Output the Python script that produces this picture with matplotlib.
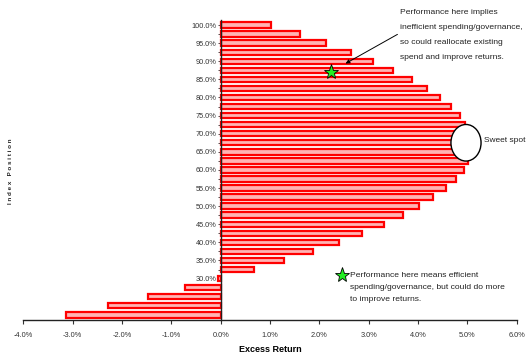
import matplotlib
matplotlib.use('Agg')
import matplotlib.pyplot as plt
from matplotlib.patches import Ellipse
import numpy as np

plt.rcParams['font.family'] = ['Liberation Sans', 'DejaVu Sans']

# index position (%) and excess return (%)
positions = [20.0, 22.5, 25.0, 27.5, 30.0, 32.5, 35.0, 37.5, 40.0, 42.5, 45.0,
             47.5, 50.0, 52.5, 55.0, 57.5, 60.0, 62.5, 65.0, 67.5, 70.0, 72.5,
             75.0, 77.5, 80.0, 82.5, 85.0, 87.5, 90.0, 92.5, 95.0, 97.5, 100.0]
excess = [-3.14, -2.29, -1.48, -0.73, -0.05, 0.67, 1.28, 1.86, 2.40, 2.87, 3.30,
          3.69, 4.02, 4.31, 4.57, 4.76, 4.92, 5.02, 5.07, 5.07, 5.02, 4.95,
          4.85, 4.67, 4.45, 4.18, 3.87, 3.50, 3.09, 2.65, 2.13, 1.61, 1.01]

xticks = [-4, -3, -2, -1, 0, 1, 2, 3, 4, 5, 6]
yticks = [20, 25, 30, 35, 40, 45, 50, 55, 60, 65, 70, 75, 80, 85, 90, 95, 100]

star_hi = (2.24, 87.0)
star_lo = (2.45, 31.0)

text_hi = "Performance here implies\ninefficient spending/governance,\nso could reallocate existing\nspend and improve returns."
text_lo = "Performance here means efficient\nspending/governance, but could do more\nto improve returns."

fig = plt.figure(figsize=(5.29, 3.57), dpi=100)
ax = fig.add_axes([0.044, 0.104, 0.933, 0.84])

ax.barh(positions, excess, height=1.5, color='#ffb4b4', edgecolor='#ff0000',
        linewidth=1.6, zorder=2)

ax.set_xlim(-4, 6)
ax.set_ylim(18.6, 101.4)

# y axis sits at zero excess return
ax.spines['left'].set_position(('data', 0))
ax.spines['right'].set_visible(False)
ax.spines['top'].set_visible(False)
ax.spines['left'].set_zorder(3)
for s in ['left', 'bottom']:
    ax.spines[s].set_color('#222222')
    ax.spines[s].set_linewidth(1.0)

ax.set_xticks(xticks)
ax.set_xticklabels([f'{v:.1f}%' for v in xticks], fontsize=5.3, color='#333333')
ax.set_yticks(yticks)
ax.set_yticklabels([f'{v:.1f}%' for v in yticks], fontsize=5.3, color='#333333')
ax.set_yticks(positions, minor=True)
ax.tick_params(axis='x', direction='out', length=3, width=0.8, colors='#333333', pad=6)
ax.tick_params(axis='y', which='both', direction='out', length=2, width=0.6, colors='#333333', pad=1)

ax.set_xlabel('Excess Return', fontsize=6.5, fontweight='bold', labelpad=4)
fig.text(0.02, 0.521, 'I n d e x   P o s i t i o n', rotation=90, fontsize=4.5,
         fontweight='bold', ha='center', va='center', color='#222222')

# sweet spot circle
ell = Ellipse((4.97, 67.5), 0.61, 10.1, facecolor='white', edgecolor='black',
              linewidth=1.0, zorder=4)
ax.add_patch(ell)
ax.text(5.34, 68.1, 'Sweet spot', fontsize=6, va='center', ha='left', color='#222222')

# stars
ax.plot(*star_hi, marker='*', markersize=11, color='#22ee22', markeredgecolor='black',
        markeredgewidth=0.6, zorder=5)
ax.plot(*star_lo, marker='*', markersize=11, color='#22ee22', markeredgecolor='black',
        markeredgewidth=0.6, zorder=5, clip_on=False)

ax.text(3.63, 104.3, text_hi, fontsize=6.1, va='top', ha='left', linespacing=2.55,
        color='#222222')
ax.annotate('', xy=(2.48, 89.0), xytext=(3.63, 97.8),
            arrowprops=dict(arrowstyle='-|>', color='black', lw=0.7, mutation_scale=6))

ax.text(2.62, 31.85, text_lo, fontsize=6.1, va='top', ha='left', linespacing=1.98,
        color='#222222')

fig.savefig('out.png', dpi=100)
